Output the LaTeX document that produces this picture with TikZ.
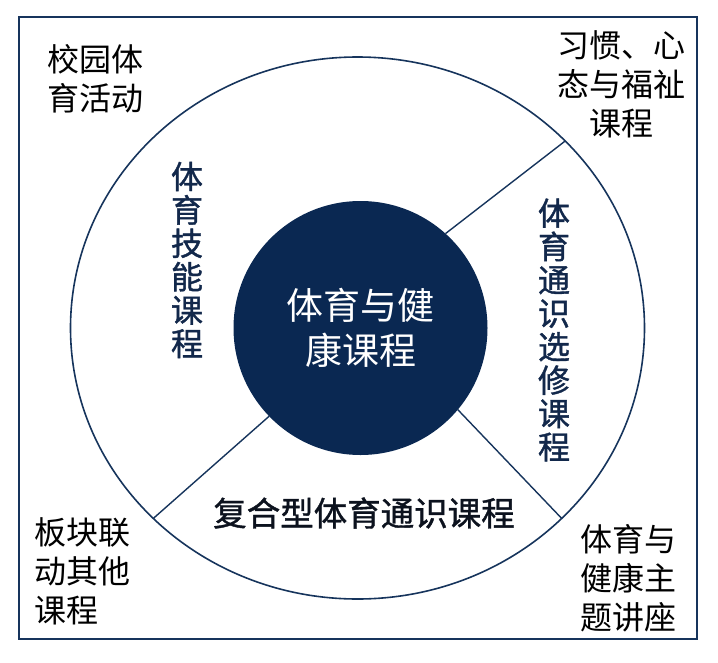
\documentclass[tikz,border=0pt]{standalone}
\usepackage{fontspec}
\setmainfont{Noto Sans CJK SC}
\newfontfamily\semibold{Noto Sans CJK SC}[FakeBold=1.2]
\usetikzlibrary{shapes.geometric}
\definecolor{navy}{RGB}{10,40,82}
\definecolor{linec}{RGB}{22,52,92}
\definecolor{txtnavy}{RGB}{18,40,75}
\definecolor{txtdark}{RGB}{12,18,30}
\begin{document}
\begin{tikzpicture}[x=1pt,y=-1pt,
  frame/.style={draw=linec, line width=2.5pt},
  ring/.style={ellipse, draw=linec, line width=1.6pt, inner sep=0pt, outer sep=0pt},
  core/.style={circle, fill=navy, inner sep=0pt, outer sep=0pt, text=white, align=center, font=\fontsize{37}{45}\selectfont},
  spoke/.style={draw=linec, line width=1.4pt},
  cornerlbl/.style={font=\fontsize{32}{39}\selectfont, text=black, inner sep=0pt},
  sectorlbl/.style={font=\semibold\fontsize{32}{33.4}\selectfont, text=txtnavy, inner sep=0pt, align=center}]
\useasboundingbox (0,0) rectangle (718,662);
\draw[frame] (19,17) rectangle (697,639);
\node[ring, minimum width=574pt, minimum height=542pt] (outer) at (357.5,328) {};
\node[core, minimum size=254pt] (hub) at (360.5,328) {体育与健\\康课程};
\draw[spoke] (hub.48) -- (outer.42.5);
\draw[spoke] (hub.-40.7) -- (outer.-43.2);
\draw[spoke] (hub.224.8) -- (outer.223);
\node[sectorlbl] (skill) at (187,260) {体\\育\\技\\能\\课\\程};
\node[sectorlbl] (elective) at (554,330) {体\\育\\通\\识\\选\\修\\课\\程};
\node[sectorlbl, text=txtdark, font=\semibold\fontsize{33.5}{40}\selectfont] (compound) at (364,513) {复合型体育通识课程};
\node[cornerlbl, align=left] (campus) at (95,79) {校园体\\育活动};
\node[cornerlbl, align=center] (habit) at (621,84) {习惯、心\\态与福祉\\课程};
\node[cornerlbl, align=left, anchor=west] (block) at (34,571) {板块联\\动其他\\课程};
\node[cornerlbl, align=center] (lecture) at (628,578) {体育与\\健康主\\题讲座};
\end{tikzpicture}
\end{document}
